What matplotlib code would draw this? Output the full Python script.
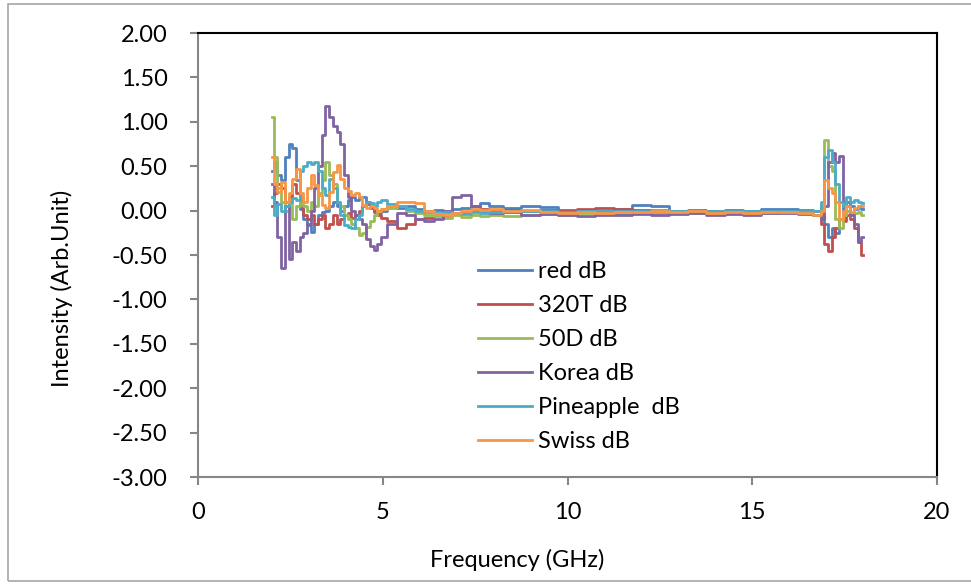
import matplotlib
matplotlib.use("Agg")
from matplotlib import pyplot as plt
from matplotlib.patches import Rectangle
from matplotlib.ticker import FormatStrFormatter, MultipleLocator


# --------------------------------------------------------------------------------------------------------------------
# data...

freq = [2.0, 2.1, 2.2, 2.3, 2.4, 2.5, 2.6, 2.7, 2.8, 2.9,
        3.0, 3.1, 3.2, 3.3, 3.4, 3.5, 3.6, 3.7, 3.8, 3.9,
        4.0, 4.1, 4.2, 4.3, 4.4, 4.5, 4.6, 4.7, 4.8, 4.9, 5.0,
        5.25, 5.5, 5.75, 6.0, 6.25, 6.5, 6.75, 7.0, 7.25, 7.5, 7.75,
        8.0, 8.5, 9.0, 9.5, 10.0, 10.5, 11.0, 11.5, 12.0, 12.5,
        13.0, 13.5, 14.0, 14.5, 15.0, 15.5, 16.0, 16.5,
        16.8, 16.9, 17.0, 17.1, 17.2, 17.3, 17.4, 17.5, 17.6, 17.7, 17.8, 17.9, 18.0]

red_db = [0.45, 0.55, 0.40, 0.35, 0.60, 0.75, 0.70, 0.35, 0.02, -0.10,
          -0.16, -0.24, -0.15, -0.05, -0.02, 0.00, 0.05, 0.10, 0.05, 0.00,
          0.05, 0.12, 0.15, 0.12, 0.15, 0.15, 0.10, 0.05, 0.00, -0.03, 0.00,
          0.05, 0.03, 0.05, 0.02, 0.00, 0.01, 0.00, 0.02, 0.03, 0.05, 0.08,
          0.05, 0.03, 0.05, 0.04, 0.01, 0.00, 0.00, 0.02, 0.06, 0.05,
          0.00, 0.01, 0.00, 0.01, 0.00, 0.02, 0.02, 0.01,
          0.00, -0.05, -0.15, -0.30, -0.20, -0.25, -0.10, 0.05, 0.10, 0.05, 0.02, 0.05, 0.02]

t320_db = [0.05, 0.20, 0.30, 0.25, 0.10, 0.15, 0.30, 0.20, 0.05, -0.05,
           -0.10, -0.05, -0.15, -0.10, -0.05, -0.20, -0.15, -0.05, -0.15, -0.10,
           -0.05, -0.03, -0.08, -0.05, 0.00, 0.05, 0.07, 0.03, -0.02, -0.05, -0.08,
           -0.12, -0.20, -0.15, -0.10, -0.08, -0.05, -0.06, -0.03, -0.02, 0.00, 0.02,
           0.00, 0.01, 0.00, 0.01, 0.00, 0.02, 0.03, 0.02, 0.01, 0.00,
           -0.01, 0.00, -0.01, 0.00, -0.02, -0.01, -0.02, -0.03,
           -0.05, -0.15, -0.38, -0.45, -0.30, -0.20, -0.10, -0.12, -0.05, -0.10, -0.20, -0.35, -0.50]

d50_db = [1.05, 0.60, 0.25, 0.10, 0.00, 0.10, -0.10, 0.05, 0.15, 0.05,
          0.00, 0.10, 0.05, 0.20, 0.35, 0.55, 0.40, 0.30, 0.10, 0.05,
          -0.05, -0.10, -0.15, -0.20, -0.28, -0.25, -0.18, -0.12, -0.05, 0.00, 0.02,
          0.03, 0.05, 0.00, -0.03, -0.05, -0.06, -0.08, -0.05, -0.07, -0.05, -0.06,
          -0.05, -0.06, -0.05, -0.04, -0.05, -0.03, -0.04, -0.03, -0.02, -0.03,
          -0.02, -0.03, -0.02, -0.03, -0.02, -0.03, -0.02, -0.03,
          -0.05, 0.05, 0.80, 0.50, 0.45, -0.10, -0.20, -0.05, 0.00, -0.05, -0.03, -0.02, -0.05]

korea_db = [0.30, 0.10, -0.30, -0.65, 0.05, -0.55, -0.35, -0.45, -0.30, -0.25,
            -0.15, 0.00, 0.25, 0.50, 0.85, 1.18, 1.05, 0.95, 0.88, 0.75,
            0.40, 0.15, 0.00, -0.05, -0.10, -0.15, -0.32, -0.40, -0.44, -0.38, -0.30,
            -0.15, -0.03, -0.05, -0.10, -0.12, -0.10, 0.00, 0.15, 0.18, 0.05, -0.02,
            -0.03, -0.02, -0.05, -0.04, -0.05, -0.06, -0.05, -0.05, -0.04, -0.05,
            -0.04, -0.03, -0.05, -0.04, -0.05, -0.03, -0.03, -0.04,
            -0.05, -0.10, 0.05, 0.55, 0.65, 0.55, 0.62, 0.10, 0.05, -0.05, -0.15, -0.35, -0.30]

pineapple_db = [0.15, -0.05, 0.07, 0.00, 0.05, 0.10, 0.14, 0.12, 0.45, 0.50,
                0.55, 0.52, 0.55, 0.45, 0.25, 0.18, 0.36, 0.25, 0.10, -0.05,
                -0.16, -0.18, -0.20, -0.10, -0.05, 0.05, 0.10, 0.08, 0.05, 0.10, 0.12,
                0.07, 0.05, 0.02, 0.00, -0.02, -0.03, -0.02, -0.03, -0.04, -0.02, -0.03,
                -0.02, -0.01, 0.00, -0.01, -0.02, -0.01, 0.00, -0.01, 0.00, 0.01,
                0.00, -0.01, 0.00, -0.01, -0.01, 0.00, -0.01, -0.01,
                0.00, 0.10, 0.60, 0.68, 0.55, 0.30, 0.10, 0.05, 0.15, 0.10, 0.12, 0.10, 0.08]

swiss_db = [0.60, 0.30, 0.21, 0.32, 0.10, 0.20, 0.36, 0.47, 0.20, 0.10,
            0.25, 0.40, 0.29, 0.18, 0.06, 0.03, 0.21, 0.44, 0.51, 0.36,
            0.25, 0.22, 0.18, 0.20, 0.15, 0.06, 0.03, 0.05, 0.03, 0.00, 0.02,
            0.05, 0.10, 0.10, 0.08, 0.00, -0.04, -0.05, -0.03, 0.00, 0.02, 0.01,
            0.02, 0.00, 0.01, -0.02, -0.03, -0.02, -0.03, -0.02, -0.02, -0.01,
            -0.02, -0.01, -0.03, -0.02, -0.03, -0.02, -0.02, -0.03,
            -0.05, 0.00, 0.35, 0.25, 0.20, 0.10, -0.10, 0.00, 0.05, -0.02, 0.03, 0.05, 0.05]

series = [("red dB", red_db, "#4F81BD"),
          ("320T dB", t320_db, "#C0504D"),
          ("50D dB", d50_db, "#9BBB59"),
          ("Korea dB", korea_db, "#8064A2"),
          ("Pineapple  dB", pineapple_db, "#4BACC6"),
          ("Swiss dB", swiss_db, "#F79646")]


# --------------------------------------------------------------------------------------------------------------------
# chart...

plt.rcParams['font.family'] = ['Lato', 'DejaVu Sans']
plt.rcParams['axes.unicode_minus'] = False

font_size = 17

fig = plt.figure(figsize=(9.71, 5.85), dpi=100)
ax = fig.add_axes([198 / 971, 1 - 477 / 585, (937 - 198) / 971, (477 - 33) / 585])

for label, values, colour in series:
    ax.plot(freq, values, color=colour, linewidth=2.0, drawstyle='steps-mid', label=label)

ax.set_xlim(0, 20)
ax.set_ylim(-3.0, 2.0)
ax.xaxis.set_major_locator(MultipleLocator(5))
ax.yaxis.set_major_locator(MultipleLocator(0.5))
ax.yaxis.set_major_formatter(FormatStrFormatter('%.2f'))

axis_grey = '#868686'
for side in ('left', 'bottom'):
    ax.spines[side].set_color(axis_grey)
    ax.spines[side].set_linewidth(1.5)
for side in ('top', 'right'):
    ax.spines[side].set_color('black')
    ax.spines[side].set_linewidth(1.5)

ax.tick_params(axis='both', direction='out', length=6, width=1.5, color=axis_grey,
               labelsize=font_size, labelcolor='black')
ax.tick_params(axis='y', pad=16)
ax.tick_params(axis='x', pad=12)

fig.text(62 / 971, 1 - 288 / 585, "Intensity (Arb.Unit)", rotation=90, ha='center', va='center', fontsize=font_size)
fig.text(517 / 971, 1 - 560 / 585, "Frequency (GHz)", ha='center', va='center', fontsize=font_size)

fig.legend(loc='upper left', bbox_to_anchor=(478 / 971, 1 - 261 / 585), frameon=False, fontsize=font_size,
           borderpad=0, handlelength=2.3, handletextpad=0.22, labelspacing=0.55, borderaxespad=0)

# chart area border
fig.patches.append(Rectangle((8 / 971, 4 / 585), 1.0, 577 / 585, transform=fig.transFigure,
                             fill=False, edgecolor='#A6A6A6', linewidth=1.2))

fig.savefig('out.png', dpi=100)
